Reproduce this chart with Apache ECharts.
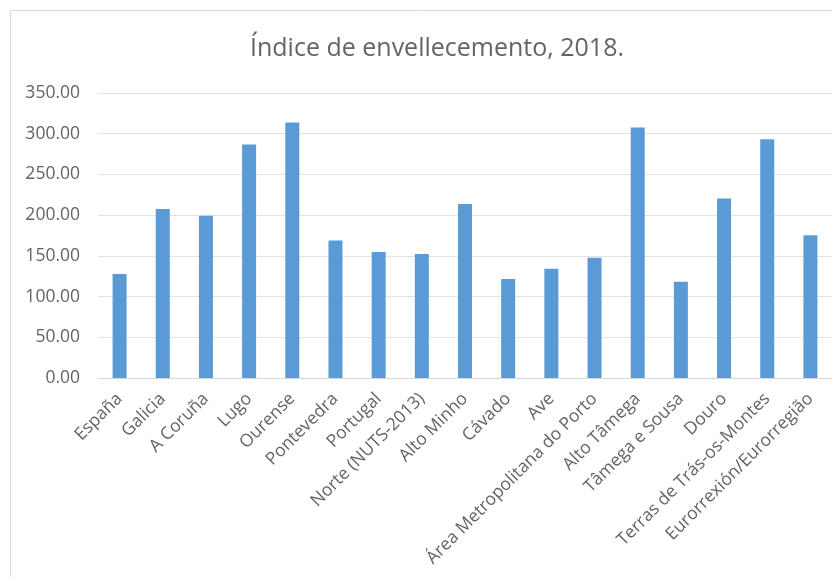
<!DOCTYPE html>
<html><head><meta charset="utf-8">
<script src="https://cdn.jsdelivr.net/npm/echarts@6/dist/echarts.min.js"></script>
<style>html,body{margin:0;padding:0;background:#fff}#c{width:832px;height:577px}</style>
</head><body><div id="c"></div>
<script>
const categories = ["España","Galicia","A Coruña","Lugo","Ourense","Pontevedra","Portugal","Norte (NUTS-2013)","Alto Minho","Cávado","Ave","Área Metropolitana do Porto","Alto Tâmega","Tâmega e Sousa","Douro","Terras de Trás-os-Montes","Eurorrexión/Eurorregião"];
const values = [127.6, 207.6, 199.4, 286.8, 313.8, 169.0, 154.7, 152.2, 213.8, 121.5, 134.2, 147.7, 307.7, 118.2, 220.3, 293.3, 175.2];
const yTicks = [0, 50, 100, 150, 200, 250, 300, 350];
const titleText = "Índice de envellecemento, 2018.";

const chart = echarts.init(document.getElementById('c'));
chart.setOption({
  animation: false,
  textStyle: {fontFamily: 'Open Sans'},
  title: {text: titleText, left: 432, textAlign: 'center', top: 31,
    textStyle: {fontSize: 25, fontWeight: 'normal', color: '#646464', fontFamily: 'Open Sans'}},
  graphic: [{type: 'rect', shape: {x: 10.5, y: 10.5, width: 840, height: 600},
    style: {fill: 'none', stroke: '#d9d9d9', lineWidth: 1}, silent: true, z: -1}],
  grid: {left: 98, right: -5, top: 93, bottom: 199, containLabel: false},
  xAxis: {type: 'category', data: categories,
    axisLine: {lineStyle: {color: '#d9d9d9'}}, axisTick: {show: false},
    axisLabel: {rotate: 45, interval: 0, color: '#646464', fontSize: 17.5, margin: 18}},
  yAxis: {type: 'value', min: yTicks[0], max: yTicks[yTicks.length-1], interval: 50,
    axisLine: {show: false}, axisTick: {show: false},
    splitLine: {lineStyle: {color: '#e3e3e3'}},
    axisLabel: {color: '#646464', fontSize: 17.5, margin: 18, formatter: v => v.toFixed(2)}},
  series: [{type: 'bar', data: values, barWidth: 14, itemStyle: {color: '#5b9bd5'}}]
});
</script></body></html>
